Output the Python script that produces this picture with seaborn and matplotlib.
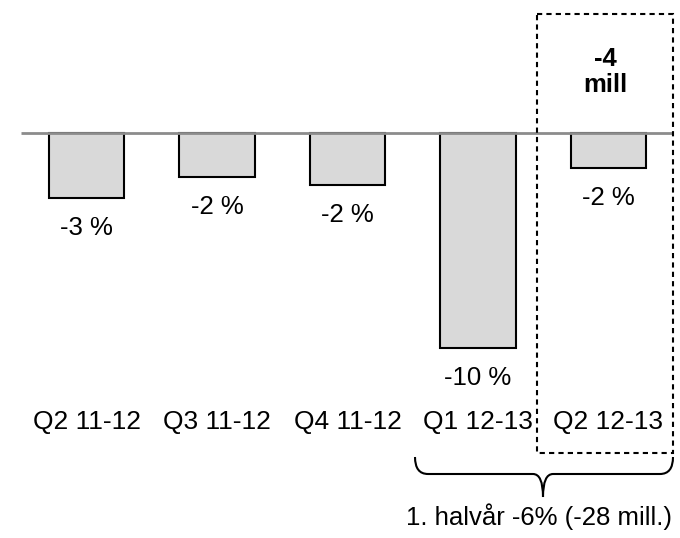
import matplotlib
matplotlib.use("Agg")
import pandas as pd
import seaborn as sns
import matplotlib.pyplot as plt
from matplotlib.path import Path
from matplotlib.patches import PathPatch, Rectangle

# data
quarters = ["Q2 11-12", "Q3 11-12", "Q4 11-12", "Q1 12-13", "Q2 12-13"]
change = [-3.02, -2.05, -2.42, -10.0, -1.63]
change_labels = ["-3 %", "-2 %", "-2 %", "-10 %", "-2 %"]
box_note = "-4\nmill"
brace_note = "1. halvår -6% (-28 mill.)"

sns.set_theme(style="white")
plt.rcParams["font.family"] = ["Liberation Sans", "DejaVu Sans"]
plt.rcParams["text.color"] = "black"
FS = 18.5

df = pd.DataFrame({"quarter": quarters, "change": change})

fig = plt.figure(figsize=(6.8, 5.38), dpi=100)
ax = fig.add_axes([0, 0, 1, 1])
sns.barplot(data=df, x="quarter", y="change", color="#d9d9d9", saturation=1,
            edgecolor="black", linewidth=1.5, width=0.575, ax=ax, zorder=2)
ax.set_xlim(-0.663, 4.548)
ax.set_ylim(-18.84, 6.19)
ax.axis("off")

# zero line
ax.hlines(0, -0.502, 4.494, color="#8c8c8c", lw=2, zorder=3)

for i, (v, lab) in enumerate(zip(change, change_labels)):
    ax.text(i, v - 1.4, lab, ha="center", va="center", fontsize=FS, color="black")
    ax.text(i, -13.45, quarters[i], ha="center", va="center", fontsize=FS + 0.5,
            color="black")

# overlay in pixel coords for the annotations
ov = fig.add_axes([0, 0, 1, 1])
ov.set_xlim(0, 680)
ov.set_ylim(538, 0)
ov.axis("off")
ov.patch.set_alpha(0)

ov.add_patch(Rectangle((537, 14), 136, 439, fill=False, edgecolor="black",
                       lw=1.5, linestyle=(0, (2.5, 2))))
ov.text(605, 72, box_note, ha="center", va="center", fontsize=FS,
        fontweight="bold", linespacing=1.15, color="black")

verts = [(415, 457), (415, 474), (428, 474), (533, 474), (543, 474), (543, 497),
         (543, 474), (553, 474), (660, 474), (673, 474), (673, 457)]
codes = [Path.MOVETO, Path.CURVE3, Path.CURVE3, Path.LINETO, Path.CURVE3, Path.CURVE3,
         Path.CURVE3, Path.CURVE3, Path.LINETO, Path.CURVE3, Path.CURVE3]
ov.add_patch(PathPatch(Path(verts, codes), fill=False, edgecolor="black", lw=1.5))
ov.text(539, 517, brace_note, ha="center", va="center", fontsize=FS, color="black")

fig.savefig("out.png", dpi=100)
